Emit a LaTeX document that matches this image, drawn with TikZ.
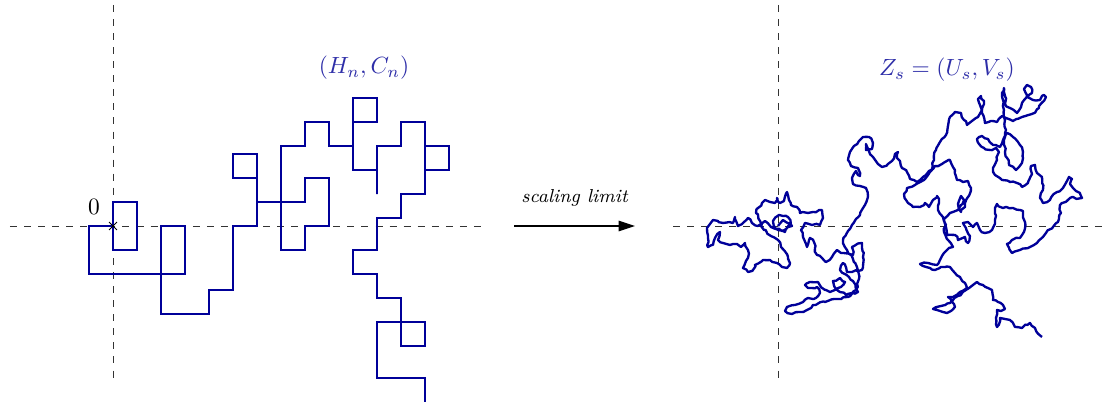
\documentclass[tikz,border=0pt]{standalone}
\usepackage{amsmath}
\usetikzlibrary{arrows.meta,decorations.pathmorphing,shapes.misc}
\definecolor{Navy}{HTML}{000099}
\definecolor{Ink}{HTML}{2E2EA8}

\tikzset{
  axis/.style={dashed,black!80},
  walk/.style={Navy,line width=.95pt},
  bm/.style={Navy,line width=1pt,line join=round,decorate,
    decoration={random steps,segment length=1.5pt,amplitude=.5pt}},
}

\begin{document}
\begin{tikzpicture}[>={Triangle[length=7pt,width=4.5pt]}]
  \useasboundingbox (-1.695,-2.655) rectangle (14.91,3.39);
  % axes
  \draw[axis] (-1.545,0) -- (5.58,0);
  \draw[axis] (0,3.315) -- (0,-2.355);
  \draw[axis] (8.4,0) -- (14.91,0);
  \draw[axis] (9.975,3.315) -- (9.975,-2.355);

  % discrete walk
  \begin{scope}[x=.36cm,y=.36cm]
    \draw[walk] (0,0) -- (0,1) -- (1,1) -- (1,-1) -- (0,-1) -- (0,0) -- (-1,0) -- (-1,-2) -- (3,-2) -- (3,0)
      -- (2,0) -- (2,-3.67) -- (4,-3.67) -- (4,-2.67) -- (5,-2.67) -- (5,0) -- (6,0) -- (6,2) -- (5,2)
      -- (5,3) -- (6,3) -- (6,1) -- (8,1) -- (8,2) -- (9,2) -- (9,0) -- (8,0) -- (8,-1) -- (7,-1)
      -- (7,3.33) -- (8,3.33) -- (8,4.33) -- (9,4.33) -- (9,3.33) -- (10,3.33) -- (10,5.33) -- (11,5.33)
      -- (11,4.33) -- (10,4.33) -- (10,2.33) -- (11,2.33) -- (11,1.33) -- (11,3.33) -- (12,3.33) -- (12,4.33)
      -- (13,4.33) -- (13,2.33) -- (14,2.33) -- (14,3.33) -- (13,3.33) -- (13,1.33) -- (12,1.33) -- (12,.33)
      -- (11,.33) -- (11,-1) -- (10,-1) -- (10,-2) -- (11,-2) -- (11,-3) -- (12,-3) -- (12,-5) -- (13,-5)
      -- (13,-4) -- (11,-4) -- (11,-6.33) -- (13,-6.33) -- (13,-7.33);
    \node[draw,cross out,minimum size=3pt,inner sep=0pt] (o) at (0,0) {};
    \node (zero) at (-.79,.79) {$0$};
  \end{scope}
  \node[text=Ink] (hc) at (3.765,2.37) {$(H_n,C_n)$};

  % scaling arrow
  \coordinate (lim1) at (6.015,0);
  \coordinate (lim2) at (7.83,0);
  \draw[->,line width=.5pt] (lim1) -- node[above=5pt,font=\footnotesize\itshape] (sl) {scaling limit} (lim2);

  % continuous limit
  \pgfmathsetseed{11}
  \begin{scope}[shift={(-1.695cm,3.39cm)},x=.15mm,y=-.15mm]
    \draw[bm] plot coordinates {
      (778,226) (783,220) (790,224) (785,232) (776,229) (773,221) (779,215) (788,217) (792,226) (782,231)
      (771,227) (765,221) (758,226) (752,223) (748,218) (744,222) (738,226) (735,217) (733,223) (723,223)
      (718,221) (713,220) (710,224) (707,228) (708,238) (708,247) (713,245) (715,238) (720,232) (718,240)
      (723,243) (730,245) (737,244) (741,247) (745,243) (748,250) (748,258) (746,261) (743,268) (748,272)
      (753,270) (755,265) (763,260) (770,260) (777,263) (782,267) (787,268) (790,263) (788,257) (781,247)
      (778,240) (771,236) (764,230) (760,221) (756,213) (758,208) (762,203) (765,200) (770,202) (775,203)
      (777,198) (780,203) (784,201) (787,192) (789,200) (791,205) (797,207) (800,213) (808,213) (813,212)
      (822,210) (823,218) (820,225) (812,225) (805,223) (801,230) (803,237) (807,247) (810,238) (814,242)
      (815,248) (817,255) (822,258) (826,262) (832,257) (837,250)
      (841,253) (853,255) (852,247) (862,243) (863,257) (862,270) (847,272) (843,263) (840,270) (849,277)
      (853,281) (858,292) (852,293) (846,295) (837,290) (833,281) (840,278) (845,282) (841,287) (830,292)
      (825,290) (818,282) (810,282) (805,285) (808,288) (817,287) (820,293) (816,298) (808,298) (803,302)
      (795,305) (787,307) (785,311) (792,314) (800,312) (807,310) (813,305) (825,302) (837,299) (848,297)
      (856,290) (859,279) (857,267) (853,259) (847,250) (843,241)
      (848,231) (852,225) (856,219) (860,215) (865,205) (868,196) (866,188) (860,186) (853,184) (852,178)
      (856,171) (860,176) (858,168) (851,166) (848,160) (850,152) (854,146) (859,141) (863,137) (869,137)
      (873,143) (872,149) (866,150) (866,144) (869,151) (873,157) (878,164) (882,167) (888,164) (892,161)
      (895,154) (898,152) (897,158) (900,161) (902,168) (907,172) (910,179) (917,182) (923,177) (929,171)
      (935,166) (942,164) (950,160) (955,170) (957,180) (963,182) (968,181) (971,188) (968,197) (965,207)
      (961,212) (958,204) (961,196) (964,200) (958,210) (950,213) (944,219) (946,227) (947,235) (955,235)
      (958,240) (965,237) (968,243) (970,236) (966,228) (963,223) (968,222) (973,227) (977,223) (980,230)
      (985,233) (992,230) (995,220) (995,208) (997,204)
      (1003,208) (1013,208) (1023,211) (1025,222) (1024,232) (1020,238) (1012,240) (1007,244) (1012,253)
      (1020,250) (1030,247) (1037,243) (1043,237) (1046,233) (1053,227) (1058,222) (1061,213) (1060,205)
      (1070,198) (1082,198) (1080,193) (1073,188) (1070,184) (1072,179) (1069,177) (1067,181) (1063,188)
      (1057,192) (1050,200) (1043,203) (1040,198) (1043,190) (1042,177) (1037,173) (1035,165) (1031,166)
      (1032,174) (1028,183) (1022,187) (1017,183) (1010,182) (1002,180) (995,175) (993,168) (997,160)
      (999,152) (996,148) (990,150) (984,148) (979,144) (977,139) (982,136) (988,139) (993,145) (1000,147)
      (1003,140) (1007,133) (1013,137) (1020,145) (1023,152) (1022,163) (1016,170) (1009,165) (1005,152)
      (1004,140) (1006,130) (1005,120) (1004,110)
      (1003,100) (1002,93) (1004,88) (1005,96) (1005,104) (1010,108) (1017,113) (1022,103) (1027,95)
      (1024,89) (1027,85) (1031,87) (1032,93) (1027,97) (1033,100) (1040,100) (1044,95) (1046,97)
      (1039,108) (1032,114) (1022,117) (1013,121) (1006,118) (1002,116) (997,122) (991,121) (985,123)
      (982,113) (980,105) (978,99) (981,96) (984,101) (982,110) (978,117) (972,121) (967,125) (964,120)
      (961,113) (955,112) (950,117) (948,126) (946,135) (940,142) (936,150) (934,160) (930,172) (924,180)
      (915,185)
      (907,188) (904,194) (908,203) (913,207) (920,207) (925,203) (929,207) (933,200) (937,196) (939,203)
      (938,210) (943,217) (946,225) (944,232) (948,240) (953,247) (947,250) (940,260) (937,265) (928,263)
      (920,264) (930,268) (935,270) (941,267) (950,267) (955,273) (960,277) (965,283) (967,288) (960,292)
      (953,297) (948,297) (952,302) (955,307) (947,313) (940,311) (933,309) (941,306) (950,303) (958,296)
      (966,290) (973,285) (977,282) (983,285) (988,288) (992,290) (993,300) (998,302) (1003,305) (1005,309)
      (1001,311) (997,310) (996,318) (997,327) (1000,318) (1005,319) (1010,320) (1015,327) (1022,328)
      (1030,323) (1035,328) (1042,337)};
  \end{scope}
  \node[text=Ink] (zs) at (12.51,2.34) {$Z_s=(U_s,V_s)$};
\end{tikzpicture}
\end{document}
